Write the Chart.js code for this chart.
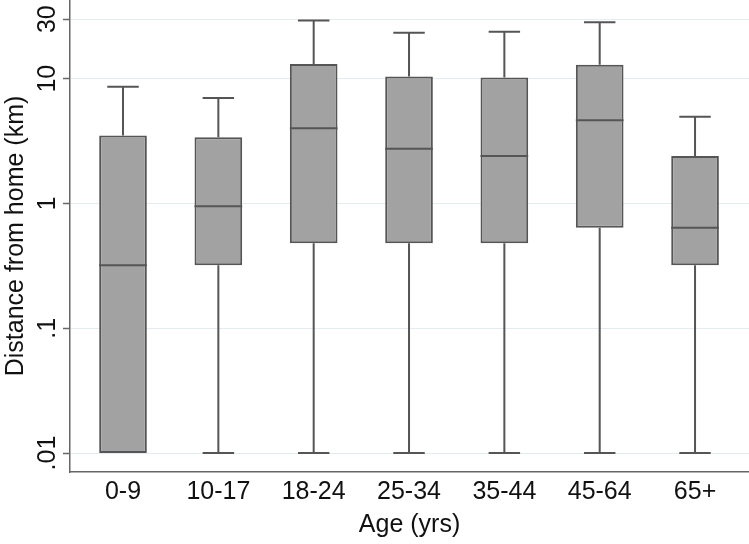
<!DOCTYPE html>
<html>
<head>
<meta charset="utf-8">
<script src="https://cdn.jsdelivr.net/npm/chart.js@4.4.1/dist/chart.umd.min.js"></script>
<style>
html, body { margin: 0; padding: 0; background: #fff; }
</style>
</head>
<body>
<canvas id="boxChart" width="749" height="544"></canvas>
<script>
var ageGroups = ['0-9', '10-17', '18-24', '25-34', '35-44', '45-64', '65+'];
var lowerWhisker = [0.01, 0.01, 0.01, 0.01, 0.01, 0.01, 0.01];
var lowerQuartile = [0.01, 0.32, 0.48, 0.48, 0.48, 0.64, 0.32];
var medianKm = [0.32, 0.95, 4.0, 2.75, 2.4, 4.65, 0.64];
var upperQuartile = [3.5, 3.4, 13.1, 10.4, 10.2, 12.9, 2.4];
var upperWhisker = [8.6, 7.0, 29.3, 23.3, 23.8, 28.3, 4.95];
var yTickValues = [0.01, 0.1, 1, 10, 30];
var yTickLabels = ['.01', '.1', '1', '10', '30'];

var fontFamily = '"Liberation Sans", Arial, Helvetica, sans-serif';
var lineGray = '#555555';

// median line + whiskers, placed with the chart's own scales
var whiskerPlugin = {
    id: 'whiskers',
    afterDatasetsDraw: function (chart) {
        var ctx = chart.ctx;
        var yScale = chart.scales.y;
        var bars = chart.getDatasetMeta(0).data;
        ctx.save();
        ctx.strokeStyle = lineGray;
        ctx.lineWidth = 2;
        bars.forEach(function (bar, i) {
            var x = bar.x;
            var half = bar.width / 2;
            var cap = bar.width * 0.33;
            var yMed = yScale.getPixelForValue(medianKm[i]);
            var yQ1 = yScale.getPixelForValue(lowerQuartile[i]);
            var yQ3 = yScale.getPixelForValue(upperQuartile[i]);
            var yLo = yScale.getPixelForValue(lowerWhisker[i]);
            var yHi = yScale.getPixelForValue(upperWhisker[i]);
            ctx.beginPath();
            ctx.moveTo(x - half, yMed);
            ctx.lineTo(x + half, yMed);
            if (yHi < yQ3) {
                ctx.moveTo(x, yQ3);
                ctx.lineTo(x, yHi);
                ctx.moveTo(x - cap, yHi);
                ctx.lineTo(x + cap, yHi);
            }
            if (yLo > yQ1 + 0.5) {
                ctx.moveTo(x, yQ1);
                ctx.lineTo(x, yLo);
                ctx.moveTo(x - cap, yLo);
                ctx.lineTo(x + cap, yLo);
            }
            ctx.stroke();
        });
        ctx.restore();
    }
};

var boxData = ageGroups.map(function (g, i) {
    return { x: i, y: [lowerQuartile[i], upperQuartile[i]] };
});

var boxChart = new Chart(document.getElementById('boxChart').getContext('2d'), {
    type: 'bar',
    data: {
        datasets: [{
            data: boxData,
            backgroundColor: '#a2a2a2',
            borderColor: lineGray,
            borderWidth: 2,
            borderSkipped: false,
            categoryPercentage: 1,
            barPercentage: 0.5
        }]
    },
    options: {
        responsive: false,
        animation: false,
        layout: { padding: 0 },
        plugins: {
            legend: { display: false },
            tooltip: { enabled: false }
        },
        scales: {
            x: {
                type: 'linear',
                offset: false,
                min: -0.556,
                max: 6.566,
                afterBuildTicks: function (scale) {
                    scale.ticks = ageGroups.map(function (g, i) { return { value: i }; });
                },
                afterFit: function (scale) {
                    scale.height = 72;
                    scale.paddingLeft = 0;
                    scale.paddingRight = 0;
                },
                grid: { display: false, drawTicks: false, offset: false },
                border: { display: true, color: '#666666', width: 1.5 },
                ticks: {
                    autoSkip: false,
                    maxRotation: 0,
                    padding: 5,
                    color: '#111111',
                    font: { family: fontFamily, size: 25 },
                    callback: function (v) { return ageGroups[v]; }
                },
                title: {
                    display: true,
                    text: 'Age (yrs)',
                    color: '#111111',
                    font: { family: fontFamily, size: 25 },
                    padding: { top: 0, bottom: 4 }
                }
            },
            y: {
                type: 'logarithmic',
                min: 0.00705,
                max: 42.7,
                afterBuildTicks: function (scale) {
                    scale.ticks = yTickValues.map(function (v) { return { value: v }; });
                },
                afterFit: function (scale) {
                    scale.width = 70;
                    scale.paddingTop = 0;
                    scale.paddingBottom = 0;
                },
                grid: {
                    color: '#e4ecef',
                    lineWidth: 1,
                    drawTicks: true,
                    tickLength: 7,
                    tickColor: '#666666',
                    tickWidth: 1.5
                },
                border: { display: true, color: '#666666', width: 1.5 },
                ticks: {
                    autoSkip: false,
                    minRotation: 90,
                    maxRotation: 90,
                    crossAlign: 'center',
                    padding: -2,
                    color: '#111111',
                    font: { family: fontFamily, size: 25 },
                    callback: function (v) {
                        var k = yTickValues.indexOf(v);
                        return k >= 0 ? yTickLabels[k] : '';
                    }
                },
                title: {
                    display: true,
                    text: 'Distance from home (km)',
                    color: '#111111',
                    font: { family: fontFamily, size: 25 },
                    padding: { top: 1, bottom: 0 }
                }
            }
        }
    },
    plugins: [whiskerPlugin]
});
</script>
</body>
</html>
